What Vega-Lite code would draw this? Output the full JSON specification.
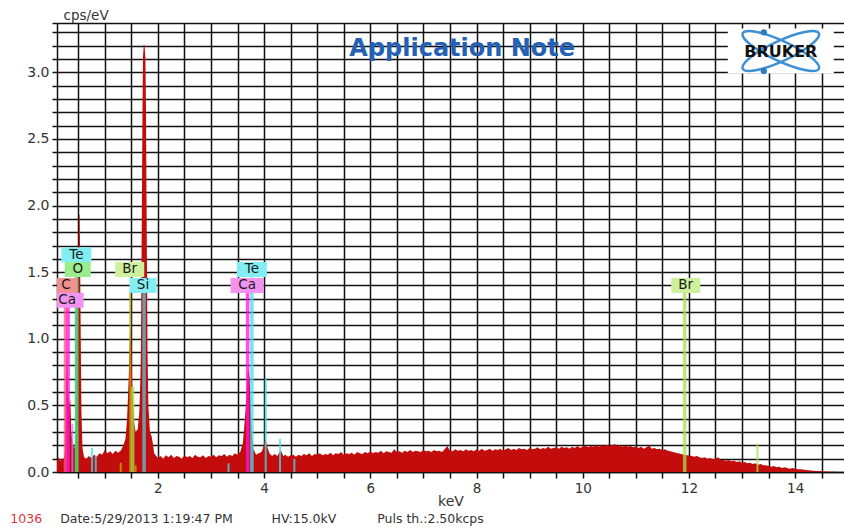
{
"$schema": "https://vega.github.io/schema/vega-lite/v6.json",
"width": 787, "height": 449,
"autosize": {"type": "none"},
"padding": {"left": 57, "top": 23, "right": 0, "bottom": 59},
"background": "white",
"config": {"view": {"stroke": null}, "font": "DejaVu Sans"},
"datasets": {
"spectrum": [
{"kev":0.10,"cps":0.09},{"kev":0.13,"cps":0.11},{"kev":0.16,"cps":0.08},{"kev":0.19,"cps":0.10},{"kev":0.22,"cps":0.09},{"kev":0.25,"cps":0.15},{"kev":0.27,"cps":0.7},{"kev":0.29,"cps":0.9},{"kev":0.31,"cps":0.6},{"kev":0.33,"cps":0.5},{"kev":0.35,"cps":0.55},{"kev":0.37,"cps":0.3},{"kev":0.40,"cps":0.2},{"kev":0.43,"cps":0.18},{"kev":0.46,"cps":0.3},{"kev":0.48,"cps":0.7},{"kev":0.495,"cps":1.2},{"kev":0.508,"cps":1.75},{"kev":0.515,"cps":1.93},{"kev":0.525,"cps":1.93},{"kev":0.532,"cps":1.75},{"kev":0.545,"cps":1.1},{"kev":0.56,"cps":0.45},{"kev":0.58,"cps":0.18},{"kev":0.61,"cps":0.11},{"kev":0.65,"cps":0.10},{"kev":0.70,"cps":0.12},{"kev":0.75,"cps":0.105},{"kev":0.80,"cps":0.13},{"kev":0.85,"cps":0.115},{"kev":0.90,"cps":0.14},{"kev":0.95,"cps":0.13},{"kev":1.00,"cps":0.165},{"kev":1.05,"cps":0.14},{"kev":1.10,"cps":0.155},{"kev":1.15,"cps":0.135},{"kev":1.20,"cps":0.16},{"kev":1.25,"cps":0.145},{"kev":1.30,"cps":0.16},{"kev":1.35,"cps":0.2},{"kev":1.39,"cps":0.25},{"kev":1.42,"cps":0.4},{"kev":1.45,"cps":0.7},{"kev":1.47,"cps":0.98},{"kev":1.48,"cps":1.08},{"kev":1.50,"cps":0.92},{"kev":1.52,"cps":0.6},{"kev":1.55,"cps":0.38},{"kev":1.58,"cps":0.3},{"kev":1.62,"cps":0.32},{"kev":1.65,"cps":0.45},{"kev":1.67,"cps":0.7},{"kev":1.68,"cps":0.9},{"kev":1.69,"cps":1.5},{"kev":1.70,"cps":2.1},{"kev":1.71,"cps":2.75},{"kev":1.72,"cps":3.12},{"kev":1.735,"cps":3.21},{"kev":1.75,"cps":3.2},{"kev":1.765,"cps":3.1},{"kev":1.775,"cps":2.75},{"kev":1.785,"cps":2.1},{"kev":1.795,"cps":1.5},{"kev":1.805,"cps":0.9},{"kev":1.82,"cps":0.5},{"kev":1.85,"cps":0.3},{"kev":1.88,"cps":0.27},{"kev":1.91,"cps":0.2},{"kev":1.93,"cps":0.14},
{"kev":1.95,"cps":0.13},{"kev":2.00,"cps":0.105},{"kev":2.05,"cps":0.12},{"kev":2.10,"cps":0.10},{"kev":2.15,"cps":0.125},{"kev":2.20,"cps":0.11},{"kev":2.25,"cps":0.13},{"kev":2.30,"cps":0.105},{"kev":2.35,"cps":0.12},{"kev":2.40,"cps":0.115},{"kev":2.45,"cps":0.10},{"kev":2.50,"cps":0.125},{"kev":2.55,"cps":0.11},{"kev":2.60,"cps":0.12},{"kev":2.65,"cps":0.105},{"kev":2.70,"cps":0.13},{"kev":2.75,"cps":0.115},{"kev":2.80,"cps":0.11},{"kev":2.85,"cps":0.125},{"kev":2.90,"cps":0.105},{"kev":2.95,"cps":0.12},{"kev":3.00,"cps":0.115},{"kev":3.05,"cps":0.13},{"kev":3.10,"cps":0.11},{"kev":3.15,"cps":0.125},{"kev":3.20,"cps":0.12},{"kev":3.25,"cps":0.135},{"kev":3.30,"cps":0.115},{"kev":3.35,"cps":0.13},{"kev":3.40,"cps":0.12},{"kev":3.45,"cps":0.14},{"kev":3.50,"cps":0.13},
{"kev":3.55,"cps":0.15},{"kev":3.60,"cps":0.22},{"kev":3.63,"cps":0.36},{"kev":3.65,"cps":0.46},{"kev":3.67,"cps":0.58},{"kev":3.69,"cps":0.74},{"kev":3.71,"cps":0.78},{"kev":3.73,"cps":0.68},{"kev":3.75,"cps":0.45},{"kev":3.77,"cps":0.28},{"kev":3.80,"cps":0.17},{"kev":3.85,"cps":0.13},{"kev":3.90,"cps":0.14},{"kev":3.95,"cps":0.15},{"kev":3.98,"cps":0.18},{"kev":4.01,"cps":0.23},{"kev":4.03,"cps":0.24},{"kev":4.06,"cps":0.19},{"kev":4.10,"cps":0.14},{"kev":4.15,"cps":0.12},{"kev":4.20,"cps":0.135},{"kev":4.25,"cps":0.12},{"kev":4.29,"cps":0.15},{"kev":4.32,"cps":0.16},{"kev":4.36,"cps":0.12},{"kev":4.40,"cps":0.13},{"kev":4.45,"cps":0.115},{"kev":4.50,"cps":0.125},{"kev":4.55,"cps":0.13},{"kev":4.60,"cps":0.115},{"kev":4.65,"cps":0.13},{"kev":4.70,"cps":0.12},{"kev":4.75,"cps":0.135},{"kev":4.80,"cps":0.125},{"kev":4.85,"cps":0.14},{"kev":4.90,"cps":0.12},{"kev":4.95,"cps":0.135},{"kev":5.00,"cps":0.13},
{"kev":5.05,"cps":0.14},{"kev":5.10,"cps":0.125},{"kev":5.15,"cps":0.135},{"kev":5.20,"cps":0.13},{"kev":5.25,"cps":0.145},{"kev":5.30,"cps":0.125},{"kev":5.35,"cps":0.14},{"kev":5.40,"cps":0.135},{"kev":5.45,"cps":0.15},{"kev":5.50,"cps":0.13},{"kev":5.55,"cps":0.14},{"kev":5.60,"cps":0.135},{"kev":5.65,"cps":0.145},{"kev":5.70,"cps":0.13},{"kev":5.75,"cps":0.15},{"kev":5.80,"cps":0.14},{"kev":5.85,"cps":0.135},{"kev":5.90,"cps":0.15},{"kev":5.95,"cps":0.14},{"kev":6.00,"cps":0.155},
{"kev":6.05,"cps":0.14},{"kev":6.10,"cps":0.15},{"kev":6.15,"cps":0.145},{"kev":6.20,"cps":0.16},{"kev":6.25,"cps":0.14},{"kev":6.30,"cps":0.155},{"kev":6.35,"cps":0.15},{"kev":6.40,"cps":0.145},{"kev":6.45,"cps":0.17},{"kev":6.50,"cps":0.15},{"kev":6.55,"cps":0.155},{"kev":6.60,"cps":0.145},{"kev":6.65,"cps":0.16},{"kev":6.70,"cps":0.15},{"kev":6.75,"cps":0.165},{"kev":6.80,"cps":0.15},{"kev":6.85,"cps":0.16},{"kev":6.90,"cps":0.155},{"kev":6.95,"cps":0.15},{"kev":7.00,"cps":0.165},
{"kev":7.05,"cps":0.155},{"kev":7.10,"cps":0.16},{"kev":7.15,"cps":0.15},{"kev":7.20,"cps":0.165},{"kev":7.25,"cps":0.155},{"kev":7.30,"cps":0.16},{"kev":7.35,"cps":0.15},{"kev":7.40,"cps":0.17},{"kev":7.45,"cps":0.195},{"kev":7.50,"cps":0.16},{"kev":7.55,"cps":0.155},{"kev":7.60,"cps":0.17},{"kev":7.65,"cps":0.16},{"kev":7.70,"cps":0.165},{"kev":7.75,"cps":0.155},{"kev":7.80,"cps":0.17},{"kev":7.85,"cps":0.16},{"kev":7.90,"cps":0.165},{"kev":7.95,"cps":0.155},{"kev":8.00,"cps":0.17},
{"kev":8.05,"cps":0.16},{"kev":8.10,"cps":0.175},{"kev":8.15,"cps":0.16},{"kev":8.20,"cps":0.165},{"kev":8.25,"cps":0.175},{"kev":8.30,"cps":0.16},{"kev":8.35,"cps":0.17},{"kev":8.40,"cps":0.165},{"kev":8.45,"cps":0.175},{"kev":8.50,"cps":0.16},{"kev":8.55,"cps":0.17},{"kev":8.60,"cps":0.18},{"kev":8.65,"cps":0.165},{"kev":8.70,"cps":0.175},{"kev":8.75,"cps":0.165},{"kev":8.80,"cps":0.18},{"kev":8.85,"cps":0.17},{"kev":8.90,"cps":0.175},{"kev":8.95,"cps":0.165},{"kev":9.00,"cps":0.18},
{"kev":9.05,"cps":0.17},{"kev":9.10,"cps":0.175},{"kev":9.15,"cps":0.185},{"kev":9.20,"cps":0.17},{"kev":9.25,"cps":0.18},{"kev":9.30,"cps":0.175},{"kev":9.35,"cps":0.19},{"kev":9.40,"cps":0.175},{"kev":9.45,"cps":0.18},{"kev":9.50,"cps":0.185},{"kev":9.55,"cps":0.175},{"kev":9.60,"cps":0.19},{"kev":9.65,"cps":0.18},{"kev":9.70,"cps":0.185},{"kev":9.75,"cps":0.175},{"kev":9.80,"cps":0.19},{"kev":9.85,"cps":0.18},{"kev":9.90,"cps":0.195},{"kev":9.95,"cps":0.18},{"kev":10.00,"cps":0.19},
{"kev":10.05,"cps":0.2},{"kev":10.10,"cps":0.185},{"kev":10.15,"cps":0.195},{"kev":10.20,"cps":0.19},{"kev":10.25,"cps":0.2},{"kev":10.30,"cps":0.19},{"kev":10.35,"cps":0.2},{"kev":10.40,"cps":0.195},{"kev":10.45,"cps":0.205},{"kev":10.50,"cps":0.195},{"kev":10.55,"cps":0.2},{"kev":10.60,"cps":0.21},{"kev":10.65,"cps":0.195},{"kev":10.70,"cps":0.2},{"kev":10.75,"cps":0.19},{"kev":10.80,"cps":0.2},{"kev":10.85,"cps":0.19},{"kev":10.90,"cps":0.195},{"kev":10.95,"cps":0.185},{"kev":11.00,"cps":0.19},
{"kev":11.05,"cps":0.18},{"kev":11.10,"cps":0.19},{"kev":11.15,"cps":0.175},{"kev":11.20,"cps":0.185},{"kev":11.25,"cps":0.2},{"kev":11.30,"cps":0.175},{"kev":11.35,"cps":0.18},{"kev":11.40,"cps":0.17},{"kev":11.45,"cps":0.175},{"kev":11.50,"cps":0.165},{"kev":11.55,"cps":0.17},{"kev":11.60,"cps":0.16},{"kev":11.65,"cps":0.155},{"kev":11.70,"cps":0.15},{"kev":11.75,"cps":0.145},{"kev":11.80,"cps":0.14},{"kev":11.85,"cps":0.135},{"kev":11.90,"cps":0.13},{"kev":11.95,"cps":0.125},{"kev":12.00,"cps":0.125},
{"kev":12.05,"cps":0.12},{"kev":12.10,"cps":0.115},{"kev":12.15,"cps":0.12},{"kev":12.20,"cps":0.11},{"kev":12.25,"cps":0.105},{"kev":12.30,"cps":0.11},{"kev":12.35,"cps":0.1},{"kev":12.40,"cps":0.105},{"kev":12.45,"cps":0.095},{"kev":12.50,"cps":0.1},{"kev":12.55,"cps":0.11},{"kev":12.60,"cps":0.09},{"kev":12.65,"cps":0.09},{"kev":12.70,"cps":0.085},{"kev":12.75,"cps":0.09},{"kev":12.80,"cps":0.08},{"kev":12.85,"cps":0.085},{"kev":12.90,"cps":0.075},{"kev":12.95,"cps":0.08},{"kev":13.00,"cps":0.07},
{"kev":13.05,"cps":0.075},{"kev":13.10,"cps":0.065},{"kev":13.15,"cps":0.07},{"kev":13.20,"cps":0.06},{"kev":13.25,"cps":0.065},{"kev":13.30,"cps":0.055},{"kev":13.35,"cps":0.06},{"kev":13.40,"cps":0.05},{"kev":13.45,"cps":0.05},{"kev":13.50,"cps":0.045},{"kev":13.55,"cps":0.04},{"kev":13.60,"cps":0.045},{"kev":13.65,"cps":0.035},{"kev":13.70,"cps":0.04},{"kev":13.75,"cps":0.03},{"kev":13.80,"cps":0.035},{"kev":13.85,"cps":0.03},{"kev":13.90,"cps":0.025},{"kev":13.95,"cps":0.03},{"kev":14.00,"cps":0.025},
{"kev":14.05,"cps":0.02},{"kev":14.10,"cps":0.02},{"kev":14.15,"cps":0.018},{"kev":14.20,"cps":0.015},{"kev":14.25,"cps":0.013},{"kev":14.30,"cps":0.012},{"kev":14.35,"cps":0.01},{"kev":14.40,"cps":0.008},{"kev":14.45,"cps":0.007},{"kev":14.50,"cps":0.006},{"kev":14.55,"cps":0.004},{"kev":14.60,"cps":0.003},{"kev":14.65,"cps":0.002},{"kev":14.70,"cps":0.001},{"kev":14.75,"cps":0.001},{"kev":14.80,"cps":0},{"kev":14.92,"cps":0}
],
"lines": [
{"el":"C","kev":0.26,"cps":1.36,"kind":"major"},
{"el":"Ca","kev":0.31,"cps":1.25,"kind":"major"},
{"el":"Ca2","kev":0.39,"cps":0.36,"kind":"minor"},
{"el":"Te","kev":0.47,"cps":1.58,"kind":"major"},
{"el":"O","kev":0.47,"cps":1.46,"kind":"major"},
{"el":"Te","kev":0.76,"cps":0.18,"kind":"minor"},
{"el":"Te","kev":0.83,"cps":0.12,"kind":"minor"},
{"el":"Br L","kev":1.30,"cps":0.07,"kind":"minor"},
{"el":"Br L","kev":1.48,"cps":1.36,"kind":"minor"},
{"el":"Br","kev":1.525,"cps":0.64,"kind":"major"},
{"el":"Br L","kev":1.58,"cps":0.05,"kind":"minor"},
{"el":"Si","kev":1.74,"cps":1.36,"kind":"major"},
{"el":"Te","kev":3.33,"cps":0.065,"kind":"minor"},
{"el":"Ca","kev":3.69,"cps":1.36,"kind":"major"},
{"el":"Te","kev":3.77,"cps":1.46,"kind":"major"},
{"el":"Te","kev":4.03,"cps":0.70,"kind":"minor"},
{"el":"Te","kev":4.30,"cps":0.25,"kind":"minor"},
{"el":"Te","kev":4.57,"cps":0.10,"kind":"minor"},
{"el":"Br","kev":11.92,"cps":1.36,"kind":"major"},
{"el":"Br","kev":13.29,"cps":0.21,"kind":"minor"}
],
"labels": [
{"label":"Te","kev":0.465,"cps":1.63},
{"label":"O","kev":0.49,"cps":1.52},
{"label":"C","kev":0.27,"cps":1.40},
{"label":"Ca","kev":0.29,"cps":1.29},
{"label":"Br","kev":1.47,"cps":1.52},
{"label":"Si","kev":1.72,"cps":1.40},
{"label":"Te","kev":3.77,"cps":1.52},
{"label":"Ca","kev":3.68,"cps":1.40},
{"label":"Br","kev":11.94,"cps":1.40}
],
"notes": [
{"kind":"title","kev":7.73,"cps":3.125,"text":"Application Note"},
{"kind":"id","kev":-0.78,"cps":-0.355,"text":"1036"},
{"kind":"foot","kev":0.16,"cps":-0.355,"text":"Date:5/29/2013 1:19:47 PM"},
{"kind":"foot","kev":4.14,"cps":-0.355,"text":"HV:15.0kV"},
{"kind":"foot","kev":6.13,"cps":-0.355,"text":"Puls th.:2.50kcps"}
],
"logo": [
{"part":"box","kev":13.73,"cps":3.16},
{"part":"orbit","kev":13.73,"cps":3.16},
{"part":"dot","kev":13.41,"cps":3.30},
{"part":"dot","kev":13.41,"cps":3.01},
{"part":"name","kev":13.73,"cps":3.15,"text":"BRUKER"}
]
},
"encoding": {
"x": {"field":"kev","type":"quantitative","scale":{"domain":[0.1,14.92],"nice":false,"zero":false},
 "axis":{"values":[0.5,1,1.5,2,2.5,3,3.5,4,4.5,5,5.5,6,6.5,7,7.5,8,8.5,9,9.5,10,10.5,11,11.5,12,12.5,13,13.5,14,14.5],
 "labelExpr":"datum.value % 2 == 0 ? format(datum.value,'d') : ''",
 "grid":true,"gridColor":"#111","gridWidth":1.5,"gridOpacity":1,
 "domainColor":"#111","domainWidth":1.5,"tickColor":"#111","tickWidth":1.5,"tickSize":6,
 "labelFont":"DejaVu Sans","labelFontSize":13.5,"labelColor":"#333","labelPadding":3,"labelFlush":false,"labelOverlap":false,
 "title":"keV","titleFont":"DejaVu Sans","titleFontSize":14,"titleFontWeight":"normal","titleColor":"#333","titlePadding":0}},
"y": {"field":"cps","type":"quantitative","scale":{"domain":[0,3.37],"nice":false,"zero":false},
 "axis":{"values":[0,0.1,0.2,0.3,0.4,0.5,0.6,0.7,0.8,0.9,1,1.1,1.2,1.3,1.4,1.5,1.6,1.7,1.8,1.9,2,2.1,2.2,2.3,2.4,2.5,2.6,2.7,2.8,2.9,3,3.1,3.2,3.3,3.37],
 "labelExpr":"round(datum.value*10) % 5 == 0 ? format(datum.value,'.1f') : ''",
 "grid":true,"gridColor":"#111","gridWidth":1.5,"gridOpacity":1,
 "domainColor":"#111","domainWidth":1.5,"tickColor":"#111","tickWidth":1.5,"tickSize":5,
 "labelFont":"DejaVu Sans","labelFontSize":14,"labelColor":"#333","labelPadding":3,"labelFlush":false,"labelOverlap":false,
 "title":"cps/eV","titleFont":"DejaVu Sans","titleFontSize":13.5,"titleFontWeight":"normal","titleColor":"#333",
 "titleAngle":0,"titleAlign":"left","titleBaseline":"alphabetic","titleX":6,"titleY":-4}}
},
"layer": [
{"data":{"name":"spectrum"},"mark":{"type":"area","color":"#c30c0c","interpolate":"linear","clip":true}},
{"data":{"name":"lines"},"mark":{"type":"rule","opacity":0.75,"clip":true},
 "encoding":{"y2":{"datum":0},
  "stroke":{"field":"el","type":"nominal","scale":{"domain":["C","Ca","Ca2","O","Te","Br L","Br","Si"],"range":["#ff4f8b","#ff14e0","#c080f0","#4fc64f","#3fe0ee","#c0b000","#a6e24a","#55c8dc"]},"legend":null},
  "strokeWidth":{"field":"kind","type":"nominal","scale":{"domain":["major","minor"],"range":[3.5,2]},"legend":null}}},
{"data":{"name":"labels"},"mark":{"type":"point","filled":true,"opacity":1,"strokeWidth":0,"size":900,"clip":true},
 "encoding":{
  "shape":{"field":"label","type":"nominal","scale":{"domain":["Te","O","C","Ca","Br","Si"],"range":["M-1,-0.5H1V0.5H-1Z","M-0.867,-0.5H0.867V0.5H-0.867Z","M-0.75,-0.5H0.75V0.5H-0.75Z","M-1.1,-0.5H1.1V0.5H-1.1Z","M-0.967,-0.5H0.967V0.5H-0.967Z","M-0.9,-0.5H0.9V0.5H-0.9Z"]},"legend":null},
  "fill":{"field":"label","type":"nominal","scale":{"domain":["Te","O","C","Ca","Br","Si"],"range":["#80eef2","#9bec8c","#f29090","#f293f0","#cdf09c","#84eef2"]},"legend":null}}},
{"data":{"name":"labels"},"mark":{"type":"text","font":"DejaVu Sans","fontSize":13.5,"color":"#1a1a1a","align":"center","baseline":"middle","clip":true},
 "encoding":{"text":{"field":"label","type":"nominal"}}},
{"data":{"name":"notes"},"transform":[{"filter":"datum.kind == 'title'"}],
 "mark":{"type":"text","font":"DejaVu Sans","fontSize":24,"fontWeight":"bold","color":"#2461b5","align":"center","baseline":"alphabetic"},
 "encoding":{"text":{"field":"text","type":"nominal"}}},
{"data":{"name":"notes"},"transform":[{"filter":"datum.kind == 'id'"}],
 "mark":{"type":"text","font":"DejaVu Sans","fontSize":12.5,"color":"#d9383a","align":"left","baseline":"middle"},
 "encoding":{"text":{"field":"text","type":"nominal"}}},
{"data":{"name":"notes"},"transform":[{"filter":"datum.kind == 'foot'"}],
 "mark":{"type":"text","font":"DejaVu Sans","fontSize":12.5,"color":"#333","align":"left","baseline":"middle"},
 "encoding":{"text":{"field":"text","type":"nominal"}}},
{"data":{"name":"logo"},"transform":[{"filter":"datum.part == 'box'"}],
 "mark":{"type":"point","filled":true,"opacity":1,"strokeWidth":0,"color":"white","size":11236,"shape":"M-1,-0.425H1V0.425H-1Z"}},
{"data":{"name":"logo"},"transform":[{"filter":"datum.part == 'orbit'"}],
 "mark":{"type":"point","filled":false,"opacity":1,"strokeWidth":2.5,"color":"#3d8fd6","size":7056,"angle":25,
 "shape":"M-1,0C-1,-0.1326,-0.5523,-0.24,0,-0.24C0.5523,-0.24,1,-0.1326,1,0C1,0.1326,0.5523,0.24,0,0.24C-0.5523,0.24,-1,0.1326,-1,0Z"}},
{"data":{"name":"logo"},"transform":[{"filter":"datum.part == 'orbit'"}],
 "mark":{"type":"point","filled":false,"opacity":1,"strokeWidth":2.5,"color":"#3d8fd6","size":7056,"angle":-25,
 "shape":"M-1,0C-1,-0.1326,-0.5523,-0.24,0,-0.24C0.5523,-0.24,1,-0.1326,1,0C1,0.1326,0.5523,0.24,0,0.24C-0.5523,0.24,-1,0.1326,-1,0Z"}},
{"data":{"name":"logo"},"transform":[{"filter":"datum.part == 'dot'"}],
 "mark":{"type":"point","filled":true,"opacity":1,"strokeWidth":0,"color":"#2a7cc7","size":40,"shape":"circle"}},
{"data":{"name":"logo"},"transform":[{"filter":"datum.part == 'name'"}],
 "mark":{"type":"text","font":"DejaVu Sans","fontSize":16,"fontWeight":"bold","color":"#111","align":"center","baseline":"middle"},
 "encoding":{"text":{"field":"text","type":"nominal"}}}
]
}
